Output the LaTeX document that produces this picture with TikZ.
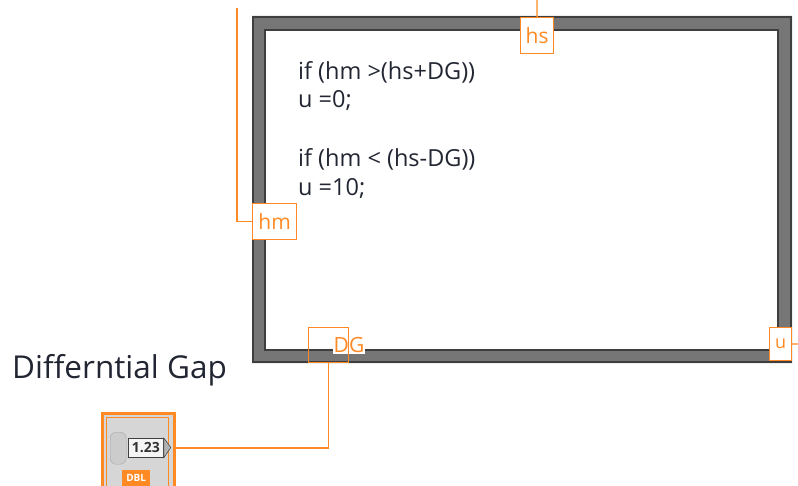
\documentclass[tikz,border=0pt]{standalone}
\usepackage{fontspec}
\setmainfont{Open Sans}
\definecolor{lvorange}{RGB}{255,138,36}
\definecolor{framegray}{RGB}{118,118,118}
\definecolor{framedark}{RGB}{62,62,62}
\definecolor{codeink}{RGB}{34,38,50}
\definecolor{ctrlgray}{RGB}{214,214,214}
\begin{document}
\begin{tikzpicture}[x=1pt,y=-1pt,
  wire/.style={draw=lvorange, line width=1.3pt},
  term/.style={draw=lvorange, fill=white, line width=1.2pt, inner sep=0pt, text=lvorange,
    anchor=north west, font=\fontsize{21}{21}\selectfont},
  codeline/.style={anchor=base west, inner sep=0pt, text=codeink, font=\fontsize{23.5}{23.5}\selectfont},
  biglabel/.style={anchor=base west, inner sep=0pt, text=codeink, font=\fontsize{31.5}{31.5}\selectfont}]
\useasboundingbox (0,0) rectangle (798,486);
% structure frame
\fill[framegray, even odd rule] (252,16) rectangle (792,363) (265,30) rectangle (778,350);
\draw[framedark, line width=1.6pt] (252.8,16.8) rectangle (791.2,362.2);
\draw[framedark, line width=1.2pt] (265,30) rectangle (778,350);
% code
\node[codeline] (c1) at (298,80) {if (hm >(hs+DG))};
\node[codeline] (c2) at (298,108) {u =0;};
\node[codeline] (c3) at (298,167) {if (hm < (hs-DG))};
\node[codeline] (c4) at (298,196) {u =10;};
% terminals
\node[term, minimum width=33pt, minimum height=36pt] (hs) at (520,17) {hs};
\node[term, minimum width=44pt, minimum height=36pt] (hm) at (252,203) {hm};
\node[term, minimum width=22pt, minimum height=33pt, font=\fontsize{18}{18}\selectfont] (u) at (769,327) {u};
\node[anchor=center, fill=white, inner sep=1pt, text=lvorange, font=\fontsize{21}{21}\selectfont] (dgtext) at (349,345) {DG};
\node[draw=lvorange, line width=1.2pt, inner sep=0pt, anchor=north west, minimum width=40pt, minimum height=35pt] (dg) at (308,327) {};
% wires
\coordinate (hmtop) at (237,8);
\coordinate (hstop) at (537,0);
\coordinate (uend) at (798,344);
\draw[wire] (hmtop) |- (hm.west);
\draw[wire] (hstop) -- (hs.north);
\draw[wire] (u.east) -- (uend);
% label
\node[biglabel] (lbl) at (12,378) {Differntial Gap};
% numeric control
\node[draw=lvorange, line width=2.5pt, fill=ctrlgray, anchor=north west, minimum width=72pt, minimum height=78pt, inner sep=0pt] (ctrl) at (101,412) {};
\draw[lvorange, line width=1pt] (106,417) rectangle (168,492);
\node[draw=gray!70, fill=gray!40, rounded corners=6pt, anchor=north west, minimum width=16pt, minimum height=32pt, inner sep=0pt] (knob) at (110,432) {};
\node[draw=black!75, line width=0.8pt, fill=white!92!gray, anchor=north west, minimum width=35pt, minimum height=19pt, inner sep=0pt, font=\bfseries\fontsize{14}{14}\selectfont, text=black!80] (disp) at (128,438) {1.23};
\draw[fill=gray!60, draw=black!70, line width=0.6pt] (disp.north east) -- ++(7,9.5) -- (disp.south east) -- cycle;
\node[fill=lvorange, anchor=north west, minimum width=28pt, minimum height=16pt, inner sep=0pt, text=white, font=\bfseries\fontsize{10}{10}\selectfont] (dbl) at (122,470) {DBL};
\draw[wire] (ctrl.east |- disp.east) -| (dg.south);
\end{tikzpicture}
\end{document}
